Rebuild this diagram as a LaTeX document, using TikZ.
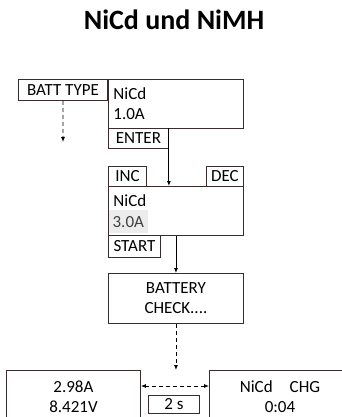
\documentclass[tikz,border=0pt]{standalone}
\usepackage{fontspec}
\setmainfont{Carlito}
\usepackage{tikz}
\usetikzlibrary{arrows.meta, positioning}
\definecolor{boxline}{HTML}{3A2C2C}
\definecolor{selgray}{HTML}{ECECEC}
\tikzset{
  lcd/.style={
    rectangle, draw=boxline, line width=0.9pt, anchor=north west,
    minimum width=135pt, minimum height=49pt, inner sep=5pt,
    font=\fontsize{17}{20}\selectfont
  },
  keybox/.style={
    rectangle, draw=boxline, line width=0.9pt, anchor=north west,
    minimum height=20pt, inner sep=2pt,
    font=\fontsize{17}{20}\selectfont
  },
  flow/.style={-{Latex[length=5pt,width=4pt]}, line width=0.9pt},
  dashflow/.style={flow, dashed, dash pattern=on 4pt off 3pt}
}

\begin{document}
\begin{tikzpicture}[x=1pt, y=-1pt]
  \clip (0,0) rectangle (342,417);
  \fill[white] (0,0) rectangle (342,417);

  \node[font=\fontsize{28}{30}\selectfont\bfseries] (title) at (174,20) {NiCd und NiMH};

  % type selection
  \node[lcd, text width=125pt, align=left] (lcdtype) at (108,79) {NiCd\\1.0A};
  \node[keybox, minimum width=89pt, minimum height=21pt] (batt) at (18,79) {BATT TYPE};
  \node[keybox, minimum width=60pt] (enter) at (108,128) {ENTER};
  \coordinate (more) at (63,142);

  % current setting
  \node[keybox, minimum width=38pt] (inc) at (108,166) {INC};
  \node[keybox, minimum width=37pt] (dec) at (206,166) {DEC};
  \node[lcd, text width=125pt, align=left] (lcdcur) at (108,186) {NiCd\\\phantom{3.0A}};
  \node[fill=selgray, anchor=north west, minimum width=39pt, minimum height=23pt, inner sep=0pt,
        text=black!75, font=\fontsize{17}{20}\selectfont] (curr) at (108.6,210) {3.0A};
  \node[keybox, minimum width=52pt, minimum height=22pt] (start) at (108,235) {START};

  % check and running displays
  \node[lcd, align=center, minimum height=50pt] (check) at (108,273) {BATTERY\\CHECK....};
  \node[lcd, align=center, minimum width=134pt, minimum height=52pt] (disp1) at (6,370) {2.98A\\8.421V};
  \node[lcd, align=center, minimum width=141pt, minimum height=52pt] (disp2) at (209,370) {NiCd\quad CHG\\0:04};
  \node[keybox, minimum width=51pt, minimum height=18pt] (twos) at (148,395) {2 s};

  \draw[dashflow] (batt.south) -- (more);
  \draw[flow] (enter.north east) -- (enter.north east |- lcdcur.north);
  \draw[flow] (lcdcur.south) -- (check.north);
  \draw[dashflow] (check.south) -- (check.south |- disp1.north);
  \draw[dashflow, {Latex[length=5pt,width=4pt]}-{Latex[length=5pt,width=4pt]}]
    ([yshift=-16pt]disp1.north east) -- ([yshift=-16pt]disp2.north west);
\end{tikzpicture}
\end{document}
